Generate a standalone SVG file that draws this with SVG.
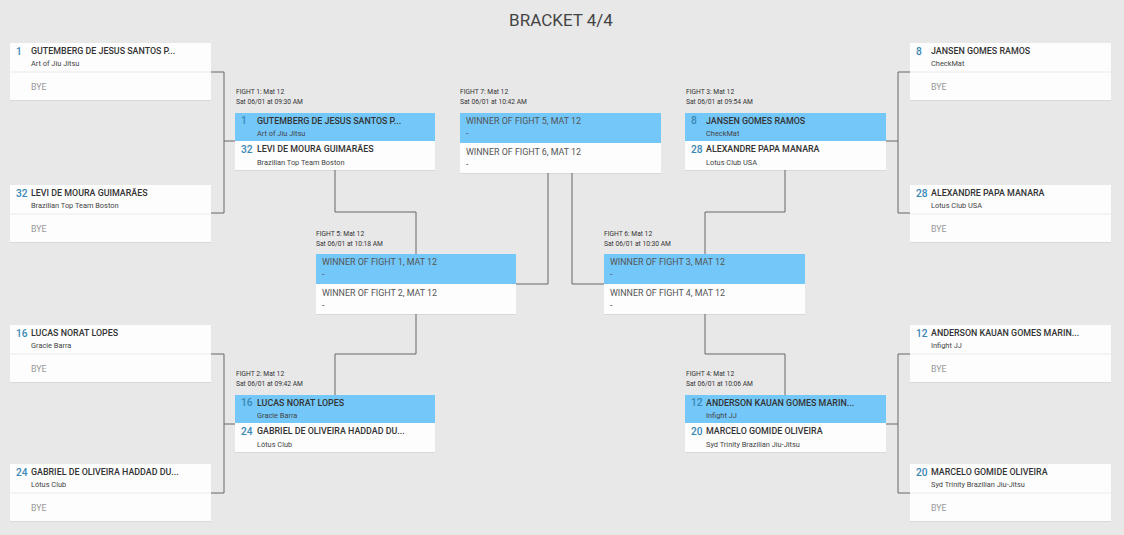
<svg xmlns="http://www.w3.org/2000/svg" width="1124" height="535" viewBox="0 0 1124 535">
<defs>
<style>
text{font-family:Roboto,"Liberation Sans",sans-serif}
.bg{fill:#e8e8e8}
.card{fill:#fdfdfd}
.hl{fill:#73c7f9}
.div{stroke:#ebebeb;stroke-width:1}
.seed{font-size:10.2px;font-weight:500;fill:#3a88b4}
.name{font-size:8.9px;font-weight:500;fill:#333}
.club{font-size:7.4px;fill:#444}
.bye{font-size:8.8px;fill:#999}
.lbl{font-size:6.7px;fill:#333}
.win{font-size:8.9px;fill:#555}
.title{font-size:17px;fill:#444}
.conn{fill:none;stroke:#666;stroke-width:1}
</style>
<filter id="sh" x="-5%" y="-10%" width="110%" height="130%"><feDropShadow dx="0" dy="0.5" stdDeviation="0.6" flood-color="#000" flood-opacity="0.12"/></filter>
</defs>
<rect class="bg" width="1124" height="535"/>
<text class="title" x="561" y="26" text-anchor="middle">BRACKET 4/4</text>

<g id="connectors">
<path class="conn" d="M211,72H224V213H211M224,141H235"/>
<path class="conn" d="M211,354H224V493H211M224,424H235"/>
<path class="conn" d="M910,72H898V213H910M898,141H886"/>
<path class="conn" d="M910,354H898V493H910M898,424H886"/>
<path class="conn" d="M335,170V212H416V254"/>
<path class="conn" d="M335,395V354H416V314"/>
<path class="conn" d="M785,170V212H705V254"/>
<path class="conn" d="M785,395V354H705V314"/>
<path class="conn" d="M516,284H548V173"/>
<path class="conn" d="M604,284H572V173"/>
</g>

<!-- round 1 left -->
<g id="r1-1" transform="translate(10,43)">
<rect class="card" width="201" height="57" filter="url(#sh)"/><line class="div" x1="0" y1="29" x2="201" y2="29"/>
<text class="seed" x="6" y="11.5">1</text><text class="name" x="21" y="11">GUTEMBERG DE JESUS SANTOS P...</text>
<text class="club" x="21" y="23">Art of Jiu Jitsu</text><text class="bye" x="21" y="47">BYE</text>
</g>
<g id="r1-32" transform="translate(10,185)">
<rect class="card" width="201" height="57" filter="url(#sh)"/><line class="div" x1="0" y1="29" x2="201" y2="29"/>
<text class="seed" x="6" y="11.5">32</text><text class="name" x="21" y="11">LEVI DE MOURA GUIMARÃES</text>
<text class="club" x="21" y="23">Brazilian Top Team Boston</text><text class="bye" x="21" y="47">BYE</text>
</g>
<g id="r1-16" transform="translate(10,325)">
<rect class="card" width="201" height="57" filter="url(#sh)"/><line class="div" x1="0" y1="29" x2="201" y2="29"/>
<text class="seed" x="6" y="11.5">16</text><text class="name" x="21" y="11">LUCAS NORAT LOPES</text>
<text class="club" x="21" y="23">Gracie Barra</text><text class="bye" x="21" y="47">BYE</text>
</g>
<g id="r1-24" transform="translate(10,464)">
<rect class="card" width="201" height="57" filter="url(#sh)"/><line class="div" x1="0" y1="29" x2="201" y2="29"/>
<text class="seed" x="6" y="11.5">24</text><text class="name" x="21" y="11">GABRIEL DE OLIVEIRA HADDAD DU...</text>
<text class="club" x="21" y="23">Lótus Club</text><text class="bye" x="21" y="47">BYE</text>
</g>

<!-- round 1 right -->
<g id="r1-8" transform="translate(910,43)">
<rect class="card" width="201" height="57" filter="url(#sh)"/><line class="div" x1="0" y1="29" x2="201" y2="29"/>
<text class="seed" x="6" y="11.5">8</text><text class="name" x="21" y="11">JANSEN GOMES RAMOS</text>
<text class="club" x="21" y="23">CheckMat</text><text class="bye" x="21" y="47">BYE</text>
</g>
<g id="r1-28" transform="translate(910,185)">
<rect class="card" width="201" height="57" filter="url(#sh)"/><line class="div" x1="0" y1="29" x2="201" y2="29"/>
<text class="seed" x="6" y="11.5">28</text><text class="name" x="21" y="11">ALEXANDRE PAPA MANARA</text>
<text class="club" x="21" y="23">Lotus Club USA</text><text class="bye" x="21" y="47">BYE</text>
</g>
<g id="r1-12" transform="translate(910,325)">
<rect class="card" width="201" height="57" filter="url(#sh)"/><line class="div" x1="0" y1="29" x2="201" y2="29"/>
<text class="seed" x="6" y="11.5">12</text><text class="name" x="21" y="11">ANDERSON KAUAN GOMES MARIN...</text>
<text class="club" x="21" y="23">Infight JJ</text><text class="bye" x="21" y="47">BYE</text>
</g>
<g id="r1-20" transform="translate(910,464)">
<rect class="card" width="201" height="57" filter="url(#sh)"/><line class="div" x1="0" y1="29" x2="201" y2="29"/>
<text class="seed" x="6" y="11.5">20</text><text class="name" x="21" y="11">MARCELO GOMIDE OLIVEIRA</text>
<text class="club" x="21" y="23">Syd Trinity Brazilian Jiu-Jitsu</text><text class="bye" x="21" y="47">BYE</text>
</g>

<!-- fights 1-4 -->
<g id="fight1" transform="translate(235,113)">
<text class="lbl" x="1" y="-19">FIGHT 1: Mat 12</text><text class="lbl" x="1" y="-9">Sat 06/01 at 09:30 AM</text>
<rect class="card" width="200" height="57" filter="url(#sh)"/><rect class="hl" width="200" height="28"/>
<text class="seed" x="6" y="11">1</text><text class="name" x="22" y="10.5">GUTEMBERG DE JESUS SANTOS P...</text>
<text class="club" x="22" y="22.5">Art of Jiu Jitsu</text>
<text class="seed" x="6" y="39.5">32</text><text class="name" x="22" y="39">LEVI DE MOURA GUIMARÃES</text>
<text class="club" x="22" y="52">Brazilian Top Team Boston</text>
</g>
<g id="fight2" transform="translate(235,395)">
<text class="lbl" x="1" y="-19">FIGHT 2: Mat 12</text><text class="lbl" x="1" y="-9">Sat 06/01 at 09:42 AM</text>
<rect class="card" width="200" height="57" filter="url(#sh)"/><rect class="hl" width="200" height="28"/>
<text class="seed" x="6" y="11">16</text><text class="name" x="22" y="10.5">LUCAS NORAT LOPES</text>
<text class="club" x="22" y="22.5">Gracie Barra</text>
<text class="seed" x="6" y="39.5">24</text><text class="name" x="22" y="39">GABRIEL DE OLIVEIRA HADDAD DU...</text>
<text class="club" x="22" y="52">Lótus Club</text>
</g>
<g id="fight3" transform="translate(685,113)">
<text class="lbl" x="1" y="-19">FIGHT 3: Mat 12</text><text class="lbl" x="1" y="-9">Sat 06/01 at 09:54 AM</text>
<rect class="card" width="201" height="57" filter="url(#sh)"/><rect class="hl" width="201" height="28"/>
<text class="seed" x="6" y="11">8</text><text class="name" x="21" y="10.5">JANSEN GOMES RAMOS</text>
<text class="club" x="21" y="22.5">CheckMat</text>
<text class="seed" x="6" y="39.5">28</text><text class="name" x="21" y="39">ALEXANDRE PAPA MANARA</text>
<text class="club" x="21" y="52">Lotus Club USA</text>
</g>
<g id="fight4" transform="translate(685,395)">
<text class="lbl" x="1" y="-19">FIGHT 4: Mat 12</text><text class="lbl" x="1" y="-9">Sat 06/01 at 10:06 AM</text>
<rect class="card" width="201" height="57" filter="url(#sh)"/><rect class="hl" width="201" height="28"/>
<text class="seed" x="6" y="11">12</text><text class="name" x="21" y="10.5">ANDERSON KAUAN GOMES MARIN...</text>
<text class="club" x="21" y="22.5">Infight JJ</text>
<text class="seed" x="6" y="39.5">20</text><text class="name" x="21" y="39">MARCELO GOMIDE OLIVEIRA</text>
<text class="club" x="21" y="52">Syd Trinity Brazilian Jiu-Jitsu</text>
</g>

<!-- fights 5-7 -->
<g id="fight5" transform="translate(316,254)">
<text class="lbl" x="0" y="-18">FIGHT 5: Mat 12</text><text class="lbl" x="0" y="-8">Sat 06/01 at 10:18 AM</text>
<rect class="card" width="200" height="60" filter="url(#sh)"/><rect class="hl" width="200" height="30"/>
<text class="win" x="6" y="10.5">WINNER OF FIGHT 1, MAT 12</text><text class="win" x="6" y="23">-</text>
<text class="win" x="6" y="41.5">WINNER OF FIGHT 2, MAT 12</text><text class="win" x="6" y="54">-</text>
</g>
<g id="fight6" transform="translate(604,254)">
<text class="lbl" x="0" y="-18">FIGHT 6: Mat 12</text><text class="lbl" x="0" y="-8">Sat 06/01 at 10:30 AM</text>
<rect class="card" width="201" height="60" filter="url(#sh)"/><rect class="hl" width="201" height="30"/>
<text class="win" x="6" y="10.5">WINNER OF FIGHT 3, MAT 12</text><text class="win" x="6" y="23">-</text>
<text class="win" x="6" y="41.5">WINNER OF FIGHT 4, MAT 12</text><text class="win" x="6" y="54">-</text>
</g>
<g id="fight7" transform="translate(460,113)">
<text class="lbl" x="0" y="-19">FIGHT 7: Mat 12</text><text class="lbl" x="0" y="-9">Sat 06/01 at 10:42 AM</text>
<rect class="card" width="201" height="60" filter="url(#sh)"/><rect class="hl" width="201" height="30"/>
<text class="win" x="6" y="10.5">WINNER OF FIGHT 5, MAT 12</text><text class="win" x="6" y="23">-</text>
<text class="win" x="6" y="41.5">WINNER OF FIGHT 6, MAT 12</text><text class="win" x="6" y="54">-</text>
</g>
</svg>
